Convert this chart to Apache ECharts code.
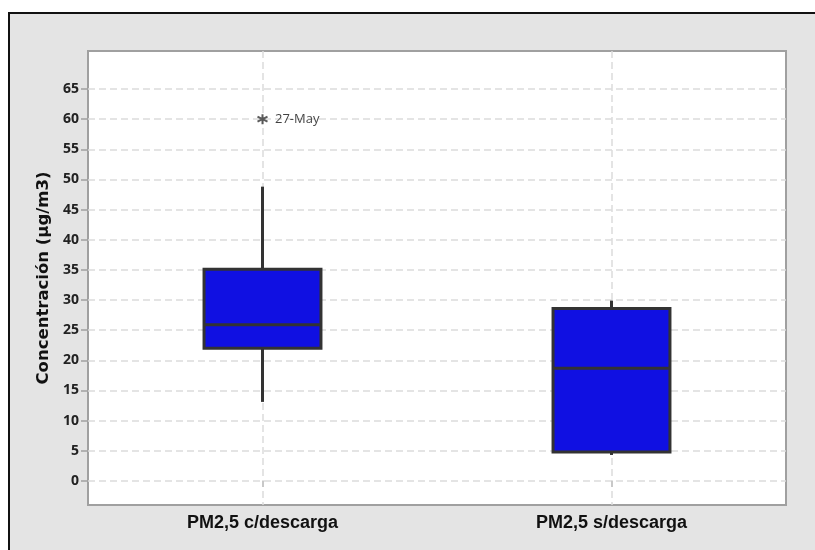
<!DOCTYPE html>
<html>
<head>
<meta charset="utf-8">
<script src="https://cdn.jsdelivr.net/npm/echarts@6/dist/echarts.min.js"></script>
<style>
  html, body { margin: 0; padding: 0; background: #fff; }
  #chart { width: 815px; height: 550px; }
</style>
</head>
<body>
<div id="chart"></div>
<script>
// boxplot stats
const categories = ['PM2,5 c/descarga', 'PM2,5 s/descarga']
const whiskerLow = [13.1, 4.3]
const q1 = [22.0, 4.8]
const median = [25.9, 18.7]
const q3 = [35.1, 28.6]
const whiskerHigh = [48.8, 29.9]
const outliers = [[0, 60]]
const outlierLabels = ['27-May']
const yTicks = [0, 5, 10, 15, 20, 25, 30, 35, 40, 45, 50, 55, 60, 65]
const yMin = -4
const yMax = 71.3

const boxData = categories.map((c, i) => [i, whiskerLow[i], q1[i], median[i], q3[i], whiskerHigh[i]])

const chart = echarts.init(document.getElementById('chart'))

chart.setOption({
  backgroundColor: '#fff',
  animation: false,
  graphic: {
    elements: [{
      type: 'rect',
      z: -10,
      silent: true,
      shape: { x: 9, y: 13, width: 820, height: 550 },
      style: { fill: '#e4e4e4', stroke: '#111', lineWidth: 2 }
    }]
  },
  grid: {
    left: 88, top: 51, width: 698, height: 454,
    show: true,
    backgroundColor: '#fff',
    borderColor: '#a0a0a0',
    borderWidth: 2
  },
  xAxis: {
    type: 'category',
    data: categories,
    boundaryGap: true,
    axisLine: { show: false },
    axisTick: { show: true, alignWithLabel: true, length: 6, lineStyle: { color: '#c8c8c8', width: 2 } },
    axisLabel: {
      margin: 9,
      color: '#111',
      fontFamily: 'Liberation Sans',
      fontWeight: 'bold',
      fontSize: 18
    },
    splitLine: {
      show: true,
      alignWithLabel: true,
      lineStyle: { color: '#dcdcdc', type: [7, 4], width: 1.5 }
    }
  },
  yAxis: {
    type: 'value',
    min: yMin,
    max: yMax,
    name: 'Concentración (µg/m3)',
    nameLocation: 'middle',
    nameGap: 33,
    nameTextStyle: {
      color: '#111',
      fontFamily: 'DejaVu Sans',
      fontWeight: 'bold',
      fontSize: 16.5
    },
    axisLine: { show: false },
    axisTick: { show: true, customValues: yTicks, length: 7, lineStyle: { color: '#a0a0a0', width: 1.5 } },
    axisLabel: {
      customValues: yTicks,
      margin: 9,
      color: '#222',
      fontFamily: 'Noto Sans',
      fontWeight: 'bold',
      fontSize: 14
    },
    splitLine: {
      show: true,
      lineStyle: { color: '#dcdcdc', type: [7, 4], width: 1.5 }
    }
  },
  series: [
    {
      type: 'custom',
      data: boxData,
      encode: { x: 0, y: [1, 2, 3, 4, 5] },
      renderItem: function (params, api) {
        const x = api.value(0)
        const half = api.size([1, 0])[0] * 0.335 / 2
        const pLow = api.coord([x, api.value(1)])
        const pQ1 = api.coord([x, api.value(2)])
        const pMed = api.coord([x, api.value(3)])
        const pQ3 = api.coord([x, api.value(4)])
        const pHigh = api.coord([x, api.value(5)])
        const line = { stroke: '#333', lineWidth: 3 }
        return {
          type: 'group',
          children: [
            { type: 'line', shape: { x1: pQ3[0], y1: pQ3[1], x2: pHigh[0], y2: pHigh[1] }, style: line },
            { type: 'line', shape: { x1: pQ1[0], y1: pQ1[1], x2: pLow[0], y2: pLow[1] }, style: line },
            {
              type: 'rect',
              shape: { x: pQ3[0] - half, y: pQ3[1], width: half * 2, height: pQ1[1] - pQ3[1] },
              style: { fill: '#1010e2', stroke: '#333', lineWidth: 3 }
            },
            { type: 'line', shape: { x1: pMed[0] - half, y1: pMed[1], x2: pMed[0] + half, y2: pMed[1] }, style: line }
          ]
        }
      }
    },
    {
      type: 'scatter',
      data: outliers.map((p, i) => ({ value: p, name: outlierLabels[i] })),
      symbol: 'path://M5 0L5 10M0.67 2.5L9.33 7.5M0.67 7.5L9.33 2.5',
      symbolSize: 10,
      itemStyle: { color: 'none', borderColor: '#333', borderWidth: 2 },
      label: {
        show: true,
        position: 'right',
        distance: 5,
        formatter: '{b}',
        color: '#111',
        fontFamily: 'Open Sans',
        fontSize: 13
      }
    }
  ]
})
</script>
</body>
</html>
